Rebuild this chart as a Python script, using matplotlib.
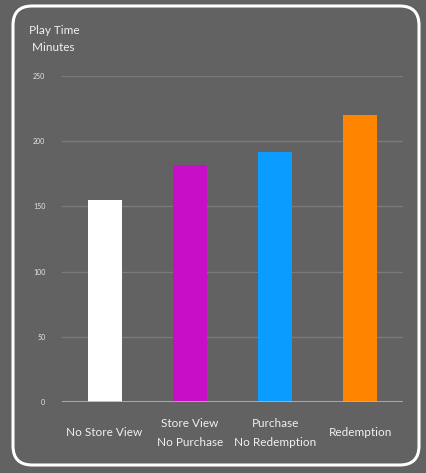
import matplotlib
matplotlib.use("Agg")
import matplotlib.pyplot as plt
from matplotlib.patches import FancyBboxPatch

categories = ["No Store View", "Store View\nNo Purchase", "Purchase\nNo Redemption", "Redemption"]
values = [155, 182, 192, 220]
colors = ["#ffffff", "#c70fc7", "#0a9dff", "#ff8400"]
yticks = [0, 50, 100, 150, 200, 250]

bg = "#626262"
plt.rcParams['font.family'] = ['Lato', 'DejaVu Sans']

fig = plt.figure(figsize=(4.26, 4.73), dpi=100, facecolor=bg)
W, H = 426, 473

# rounded white frame
frame = FancyBboxPatch((13 / W, 8 / H), (419 - 13) / W, (467 - 8) / H,
                       boxstyle="round,pad=0,rounding_size=0.045",
                       transform=fig.transFigure, facecolor=bg, edgecolor="white",
                       linewidth=2.2, mutation_aspect=W / H, zorder=-5)
fig.patches.append(frame)

ax = fig.add_axes([62 / W, 1 - 402 / H, (403 - 62) / W, (402 - 76) / H])
ax.set_zorder(2)
ax.set_facecolor("none")
ax.bar(range(len(categories)), values, width=0.4, color=colors, zorder=3)
ax.set_xlim(-0.5, 3.5)
ax.set_ylim(0, 250)
ax.set_yticks(yticks)
ax.set_yticklabels([str(t) for t in yticks], fontsize=5, color="#e6e6e6")
ax.set_xticks(range(len(categories)))
ax.set_xticklabels(categories, fontsize=8.5, color="#f0f0f0", linespacing=1.9,
                   va="center")
for s in ax.spines.values():
    s.set_visible(False)
ax.tick_params(axis="both", length=0)
ax.tick_params(axis="y", pad=12)
ax.tick_params(axis="x", pad=22)
ax.grid(axis="y", color="#7a7a7a", linewidth=1.0, zorder=0)
ax.axhline(0, color="#b5b5b5", linewidth=1.2, zorder=4)

fig.text(29 / W, 1 - 39 / H, "Play Time\n Minutes", fontsize=8.5, color="#f0f0f0",
         va="center", ha="left", linespacing=1.75, zorder=3)

fig.savefig("out.png", dpi=100, facecolor=bg)
